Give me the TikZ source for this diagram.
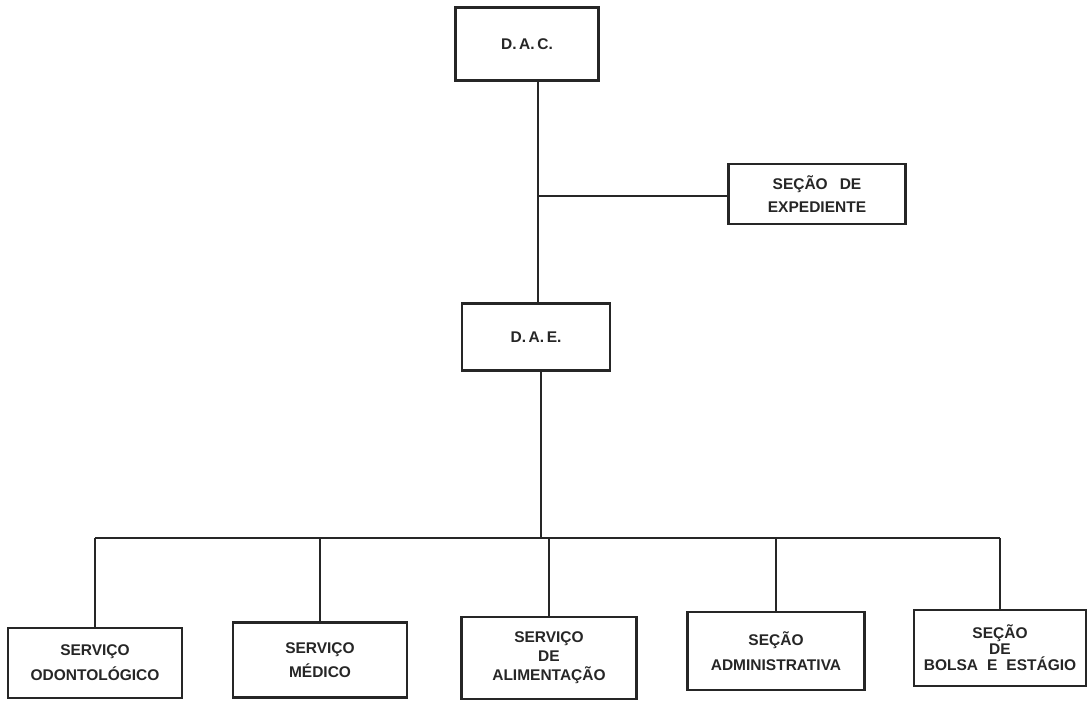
\documentclass[tikz,border=0pt]{standalone}
\usepackage{fontspec}
\setmainfont{Liberation Sans}
\definecolor{ink}{HTML}{262626}
\definecolor{paper}{HTML}{FFFFFF}
\newcommand{\boxfont}{\bfseries\fontsize{15.5}{23}\selectfont}
\tikzset{
  orgbox/.style={draw=ink, line width=2.8pt, fill=white, align=center, inner sep=0pt, font=\boxfont, text=ink},
  link/.style={draw=ink, line width=1.6pt},
}
\begin{document}
\begin{tikzpicture}[x=1pt, y=-1pt]
\useasboundingbox[fill=paper] (0,0) rectangle (1088,710);
% top
\node[orgbox, minimum width=143pt, minimum height=73pt] (dac) at (527,44) {D.\,A.\,C.};
\node[orgbox, minimum width=177pt, minimum height=60pt, font=\bfseries\fontsize{15.5}{23}\selectfont] (exp) at (817,194) {SEÇÃO\hspace{12pt}DE\\EXPEDIENTE};
\node[orgbox, minimum width=148pt, minimum height=67pt] (dae) at (536,337) {D.\,A.\,E.};
% bottom
\node[orgbox, minimum width=174pt, minimum height=70pt, font=\bfseries\fontsize{15.5}{25}\selectfont] (b1) at (95,663) {SERVIÇO\\ODONTOLÓGICO};
\node[orgbox, minimum width=174pt, minimum height=75pt, font=\bfseries\fontsize{15.5}{24}\selectfont] (b2) at (320,660) {SERVIÇO\\MÉDICO};
\node[orgbox, minimum width=175pt, minimum height=82pt, font=\bfseries\fontsize{15.5}{19}\selectfont] (b3) at (549,658) {SERVIÇO\\DE\\ALIMENTAÇÃO};
\node[orgbox, minimum width=177pt, minimum height=78pt, font=\bfseries\fontsize{15.5}{25}\selectfont] (b4) at (776,651) {SEÇÃO\\ADMINISTRATIVA};
\node[orgbox, minimum width=172pt, minimum height=76pt, font=\bfseries\fontsize{15.5}{16}\selectfont] (b5) at (1000,648) {SEÇÃO\\DE\\BOLSA\hspace{9pt}E\hspace{9pt}ESTÁGIO};
% junctions
\coordinate (spine) at (538,196);
\coordinate (bar) at (541,538);
% connectors
\draw[link] (dac.south -| spine) -- (dae.north -| spine);
\draw[link] (spine) -- (exp.west |- spine);
\draw[link] (dae.south -| bar) -- (bar);
\draw[link] (b1.north |- bar) -- (b5.north |- bar);
\foreach \b in {b1,b2,b3,b4,b5} {
  \draw[link] (\b.north |- bar) -- (\b.north);
}
\end{tikzpicture}
\end{document}
